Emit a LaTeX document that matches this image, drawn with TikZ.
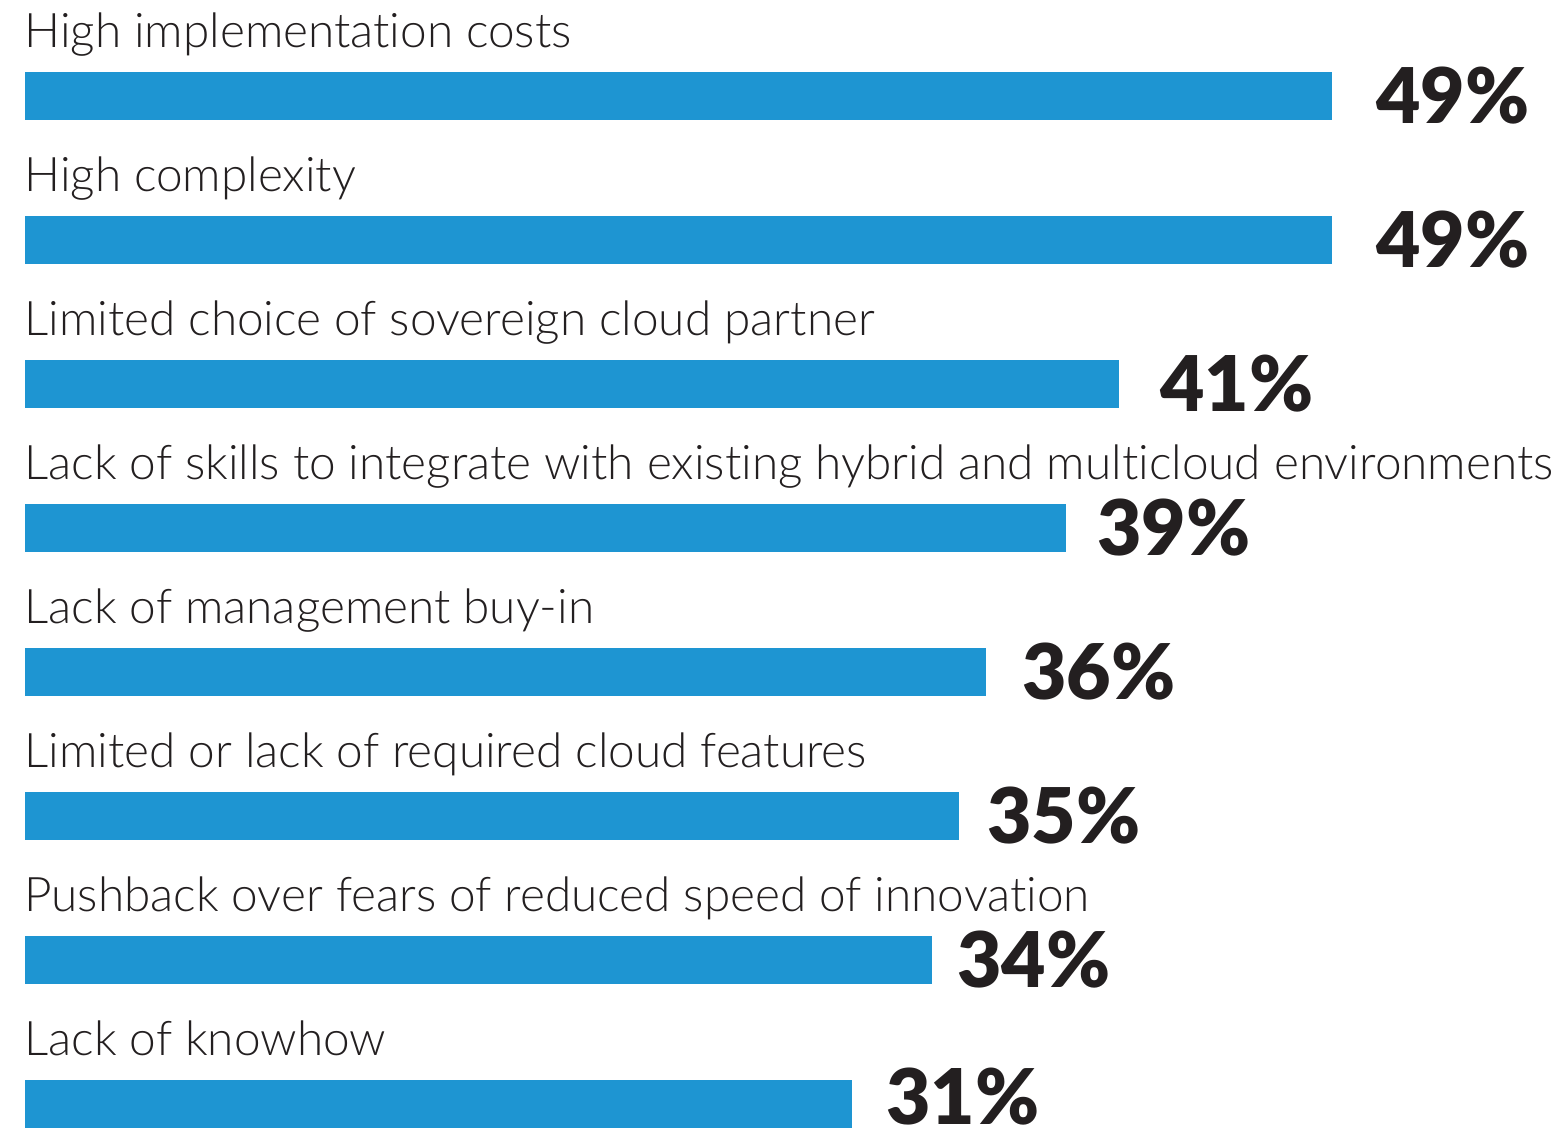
\documentclass[tikz,border=0pt]{standalone}
\usepackage{fontspec}
\setmainfont{Lato}[UprightFont=* Light, BoldFont=* Black, Ligatures=CommonOff]
\definecolor{barblue}{HTML}{1E95D2}
\definecolor{inkgrey}{HTML}{231F20}
\tikzset{
  barfill/.style={fill=barblue, draw=none, inner sep=0pt, anchor=north west, minimum height=24pt},
  itemlabel/.style={anchor=base west, inner sep=0pt, text=inkgrey, font=\fontsize{23.85}{28}\selectfont},
  pctlabel/.style={anchor=base west, inner sep=0pt, text depth=0pt, text=inkgrey, font=\fontsize{38.4}{44}\selectfont\bfseries},
}
\begin{document}
\begin{tikzpicture}[x=0.5pt,y=-0.5pt]
\useasboundingbox (0,0) rectangle (1564,1132);
% one row per answer: index / share / x of the share / answer
\foreach \i/\val/\px/\txt in {
  0/49/1376/High implementation costs,
  1/49/1376/High complexity,
  2/41/1160/Limited choice of sovereign cloud partner,
  3/39/1097/Lack of skills to integrate with existing hybrid and multicloud environments,
  4/36/1022/Lack of management buy-in,
  5/35/987/Limited or lack of required cloud features,
  6/34/957/Pushback over fears of reduced speed of innovation,
  7/31/886/Lack of knowhow}
{
  \pgfmathsetmacro{\bartop}{72+144*\i}
  \pgfmathsetmacro{\barlen}{\val*26.673}
  \pgfmathsetmacro{\pctbase}{min(\bartop+51,1124)}
  \node[itemlabel] (lbl\i) at (24,\bartop-25) {\txt};
  \node[barfill, minimum width=\barlen*0.5pt] (bar\i) at (25,\bartop) {};
  \node[pctlabel] (pct\i) at (\px,\pctbase) {\val\%};
}
\end{tikzpicture}
\end{document}
